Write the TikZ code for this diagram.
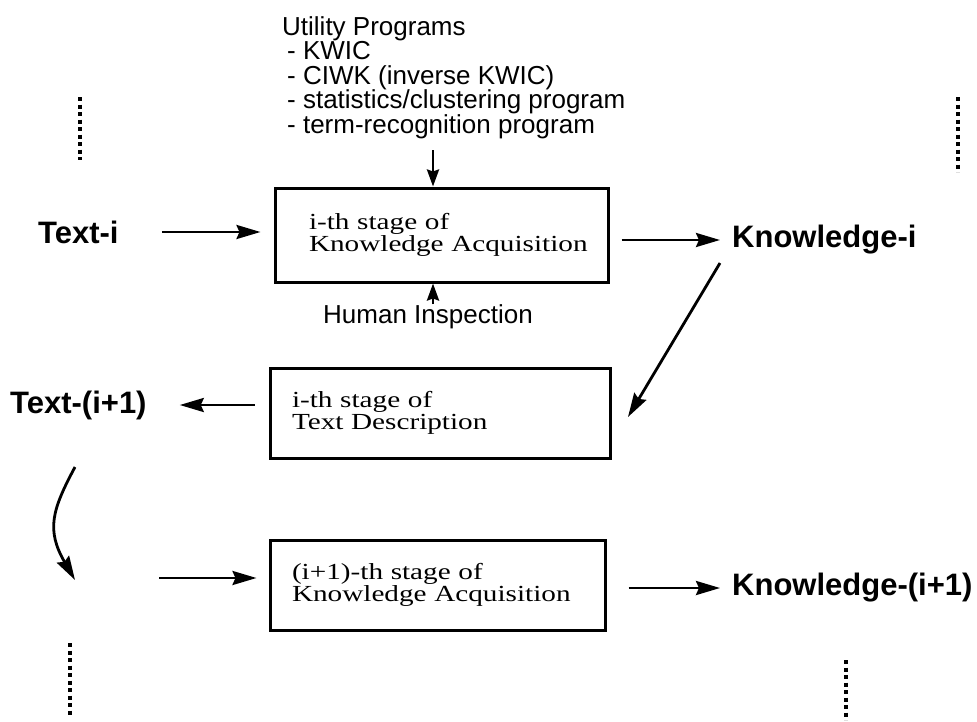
\documentclass[tikz,border=0pt]{standalone}
\usepackage{fontspec}
\setmainfont{Liberation Serif}
\newfontfamily\lsans{Liberation Sans}
\newfontfamily\boxserif[FakeStretch=1.27]{Liberation Serif}
\usetikzlibrary{arrows.meta,calc}
\begin{document}
\begin{tikzpicture}[x=1pt,y=-1pt,
  every node/.style={inner sep=0pt},
  lbl/.style={font=\lsans\bfseries\fontsize{31}{31}\selectfont, anchor=west},
  util/.style={font=\lsans\fontsize{26}{24.5}\selectfont, align=left},
  stage/.style={draw, line width=3pt, font=\boxserif\fontsize{23}{22}\selectfont,
    align=left, inner xsep=0pt, text width=#1, minimum width=#1},
  arr/.style={line width=2.8pt, -{Stealth[length=24pt,width=14pt,inset=3pt]}},
  sarr/.style={line width=2.8pt, -{Stealth[length=17pt,width=12pt,inset=2pt]}},
  dots/.style={line width=3.5pt, dash pattern=on 4pt off 3.5pt}]
\useasboundingbox (0,0) rectangle (977,721);

% utility programs
\node[util, anchor=north west] (util) at (282,16)
  {Utility Programs\\\hspace*{5pt}- KWIC\\\hspace*{5pt}- CIWK (inverse KWIC)\\\hspace*{5pt}- statistics/clustering program\\\hspace*{5pt}- term-recognition program};

% boxes
\node[stage=333pt, minimum height=94pt] (b1) at (441.5,235)
  {\hspace*{34pt}i-th stage of\\\hspace*{34pt}Knowledge Acquisition};
\node[stage=340pt, minimum height=90pt] (b2) at (440,413)
  {\hspace*{22pt}i-th stage of\\\hspace*{22pt}Text Description};
\node[stage=335pt, minimum height=90pt] (b3) at (437.5,585)
  {\hspace*{22pt}(i+1)-th stage of\\\hspace*{22pt}Knowledge Acquisition};

% labels
\node[lbl] (ti) at (38,232) {Text-i};
\node[lbl] (ki) at (732,240) {Knowledge-i};
\node[lbl] (t2) at (10,405) {Text-(i+1)};
\node[lbl] (k2) at (732,588) {Knowledge-(i+1)};
\node[font=\lsans\fontsize{26}{26}\selectfont, anchor=north west] (hi) at (323,304) {Human Inspection};

% coordinates
\coordinate (ua) at (433,150);
\coordinate (d1) at (720,263);
\coordinate (d2) at (628,417);
\coordinate (c1) at (75,467);
\coordinate (c2) at (75,580);
\coordinate (c3) at (159,578);

% arrows
\draw[sarr] (ua) -- (ua |- b1.north);
\draw[sarr] (hi.north -| ua) -- (ua |- b1.south);
\draw[arr] ($(ti.east)+(43,0)$) -- ($(b1.west |- ti.east)+(-13,0)$);
\draw[arr] ($(b1.east |- ki.west)+(12,0)$) -- ($(ki.west)+(-12,0)$);
\draw[arr] (d1) -- (d2);
\draw[arr] ($(b2.west |- t2.east)+(-14,0)$) -- ($(t2.east)+(33,0)$);
\draw[arr] (c1) .. controls (52,510) and (46,530) .. (c2);
\draw[arr] (c3) -- ($(b3.west |- c3)+(-12,0)$);
\draw[arr] ($(b3.east |- k2.west)+(22,0)$) -- ($(k2.west)+(-12,0)$);

% continuation dots
\draw[dots] (80,97) -- (80,160);
\draw[dots] (958,97) -- (958,172);
\draw[dots] (70,643) -- (70,715);
\draw[dots] (846,660) -- (846,720);
\end{tikzpicture}
\end{document}
